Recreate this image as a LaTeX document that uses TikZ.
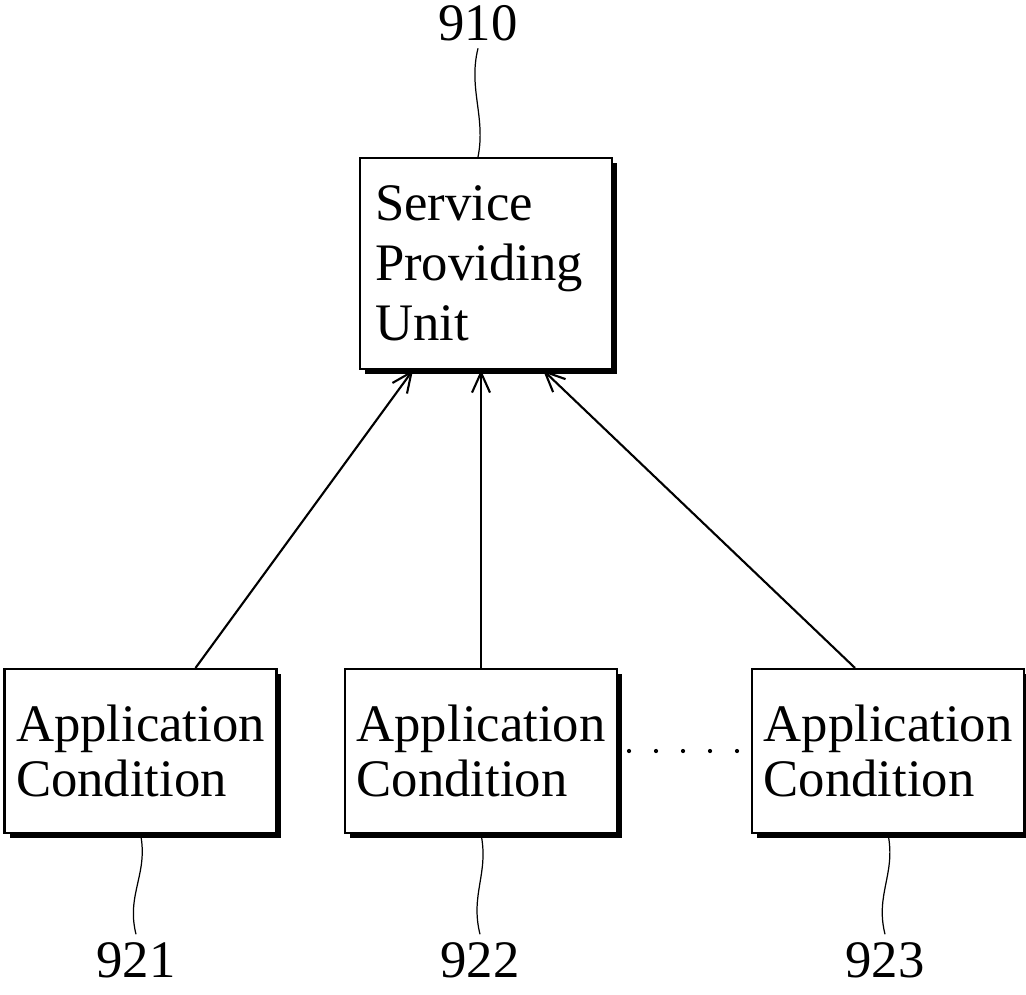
\documentclass[tikz,border=0pt]{standalone}
\usepackage{fontspec}
\setmainfont{Liberation Serif}
\usetikzlibrary{arrows.meta,shadows}

\tikzset{
  unitbox/.style={draw, line width=1.2pt, fill=white, align=left,
    general shadow={fill=black, shadow xshift=0.1cm, shadow yshift=-0.1cm}},
  condbox/.style={unitbox, minimum width=5.44cm, minimum height=3.28cm,
    font=\fontsize{30}{31.5}\selectfont},
  refnum/.style={inner sep=0.15cm, anchor=base, font=\fontsize{30}{36}\selectfont},
  leader/.style={line width=0.7pt},
  link/.style={line width=1.2pt, -{Straight Barb[length=0.4cm,width=0.36cm,line width=1.2pt]}},
  dotlink/.style={line width=2.4pt, line cap=round, dash pattern=on 0pt off 0.54cm,
    shorten <=0.22cm, shorten >=0.22cm}
}

\begin{document}
\begin{tikzpicture}[x=0.02cm, y=-0.02cm]
  \useasboundingbox (0,0) rectangle (1026,994);

  \node[unitbox, minimum width=5.04cm, minimum height=4.22cm, text width=4.44cm,
    inner xsep=0.3cm, font=\fontsize{30}{34}\selectfont] (svc) at (486,263.5)
    {Service\\Providing\\Unit};

  \foreach \n/\x in {1/140.5, 2/481, 3/888}
    \node[condbox] (cond\n) at (\x,751) {Application\\Condition};

  % reference numerals
  \node[refnum] (l910) at (478,40) {910};
  \foreach \n/\x in {1/136, 2/480, 3/885}
    \node[refnum] (l92\n) at (\x,977) {92\n};

  \draw[leader] ([xshift=-0.16cm]svc.north) .. controls +(8,-40) and +(-10,40) .. (l910.south);
  \foreach \n in {1,2,3}
    \draw[leader] (cond\n.south) .. controls +(8,40) and +(-10,-40) .. (l92\n.north);

  \draw[link] ([xshift=1.1cm]cond1.north) -- ([xshift=-1.46cm]svc.south);
  \draw[link] (cond2.north) -- (cond2.north |- svc.south);
  \draw[link] ([xshift=-0.66cm]cond3.north) -- ([xshift=1.14cm]svc.south);

  \draw[dotlink] (cond2.east) -- (cond3.west);
\end{tikzpicture}
\end{document}
